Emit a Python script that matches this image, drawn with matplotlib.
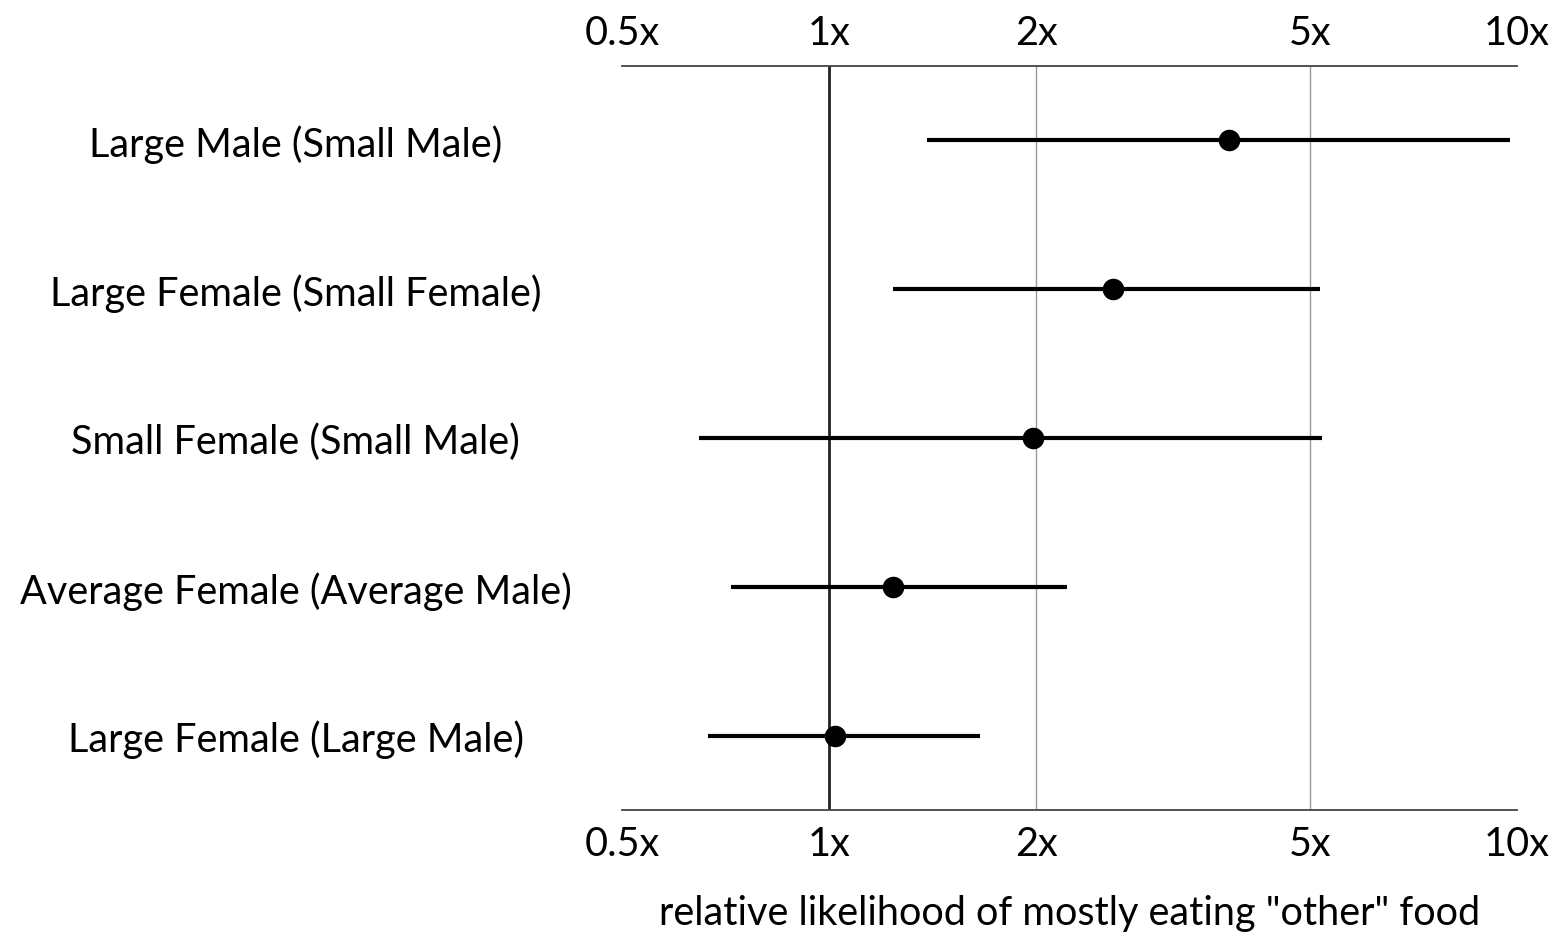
import numpy as np
import matplotlib.pyplot as plt

# comparisons (reference group in parentheses), top to bottom
labels = ["Large Male (Small Male)",
          "Large Female (Small Female)",
          "Small Female (Small Male)",
          "Average Female (Average Male)",
          "Large Female (Large Male)"]
estimate = [3.82, 2.59, 1.98, 1.24, 1.02]
ci_low = [1.39, 1.24, 0.647, 0.72, 0.667]
ci_high = [9.76, 5.17, 5.2, 2.22, 1.66]

tick_vals = [0.5, 1, 2, 5, 10]
tick_labels = ["0.5x", "1x", "2x", "5x", "10x"]

plt.rcParams["font.family"] = ["Lato", "DejaVu Sans"]
fs = 28.5

fig = plt.figure(figsize=(15.61, 9.37), dpi=100)
ax = fig.add_axes([622 / 1561, 1 - 811 / 937, 895 / 1561, 744 / 937])

y = np.arange(len(labels))[::-1]

# reference lines
ax.axvline(1, color="#222222", lw=2, zorder=1)
for v in [2, 5]:
    ax.axvline(v, color="#999999", lw=1, zorder=1)

ax.hlines(y, ci_low, ci_high, color="black", lw=3, zorder=2)
ax.plot(estimate, y, "o", color="black", ms=14.5, zorder=3)

ax.set_xscale("log")
ax.set_xlim(0.5, 10)
ax.set_ylim(-0.5, len(labels) - 0.5)
ax.set_xticks(tick_vals)
ax.set_xticklabels(tick_labels)
ax.xaxis.set_minor_locator(plt.NullLocator())
ax.set_yticks(y)
ax.set_yticklabels(labels, ha="center")
ax.tick_params(axis="y", length=0, labelsize=fs, pad=235)
ax.tick_params(axis="x", length=0, labelsize=fs, pad=11,
               top=True, labeltop=True)

for s in ["left", "right"]:
    ax.spines[s].set_visible(False)
for s in ["top", "bottom"]:
    ax.spines[s].set_color("#444444")
    ax.spines[s].set_linewidth(1.3)

ax.set_xlabel('relative likelihood of mostly eating "other" food', fontsize=fs, labelpad=23)

fig.savefig("out.png", dpi=100)
